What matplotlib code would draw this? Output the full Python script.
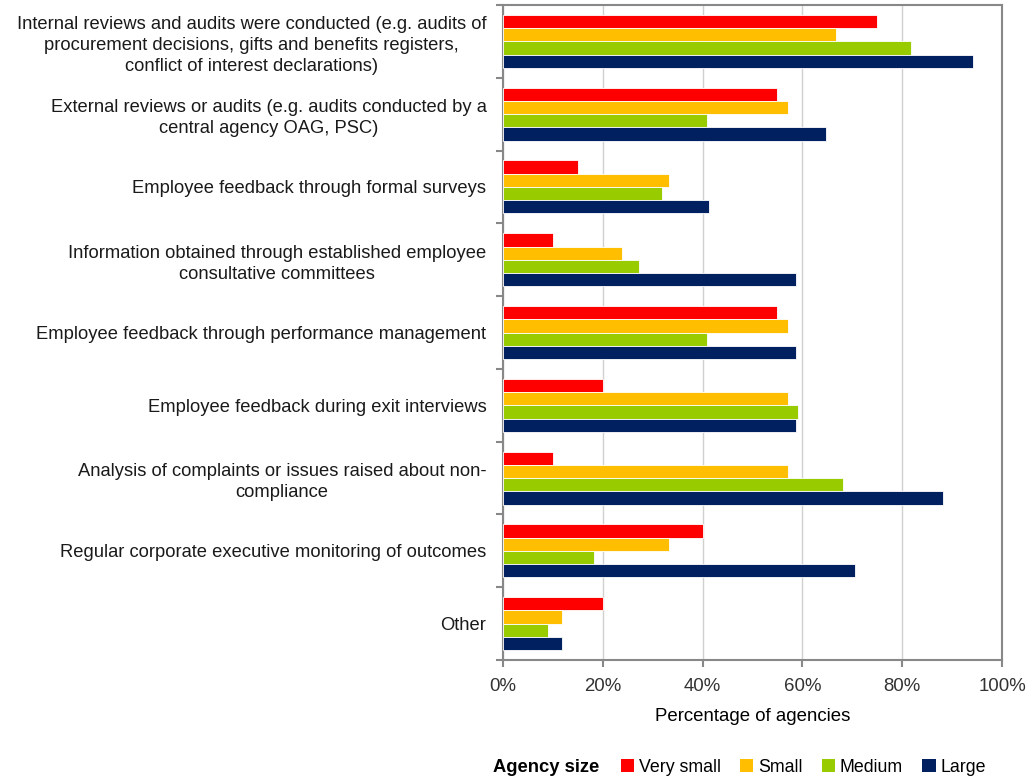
import matplotlib.pyplot as plt
import numpy as np
from matplotlib.patches import Patch
from matplotlib.ticker import FixedLocator, PercentFormatter

plt.rcParams["font.family"] = ["Liberation Sans", "DejaVu Sans"]

categories = [
    "Internal reviews and audits were conducted (e.g. audits of\n"
    "procurement decisions, gifts and benefits registers,\n"
    "conflict of interest declarations)",
    "External reviews or audits (e.g. audits conducted by a\n"
    "central agency OAG, PSC)",
    "Employee feedback through formal surveys",
    "Information obtained through established employee\n"
    "consultative committees",
    "Employee feedback through performance management",
    "Employee feedback during exit interviews",
    "Analysis of complaints or issues raised about non-\n"
    "compliance",
    "Regular corporate executive monitoring of outcomes",
    "Other",
]

sizes = ["Very small", "Small", "Medium", "Large"]
very_small = [75.0, 55.0, 15.0, 10.0, 55.0, 20.0, 10.0, 40.0, 20.0]
small = [66.7, 57.1, 33.3, 23.8, 57.1, 57.1, 57.1, 33.3, 11.8]
medium = [81.8, 40.9, 31.8, 27.3, 40.9, 59.1, 68.2, 18.2, 9.1]
large = [94.1, 64.7, 41.2, 58.8, 58.8, 58.8, 88.2, 70.6, 11.8]

colors = ["#FF0000", "#FFBF00", "#99CC00", "#002060"]

FS = 13.2


def main() -> None:
    fig = plt.figure(figsize=(10.33, 7.76), dpi=100)
    ax = fig.add_axes([0.487, 0.1495, 0.483, 0.844])

    y = np.arange(len(categories))
    h = 0.182
    series = [very_small, small, medium, large]
    for i, (vals, col) in enumerate(zip(series, colors)):
        ax.barh(y + (i - 1.5) * h, vals, height=h, color=col,
                edgecolor="white", linewidth=0.6, zorder=3)

    ax.set_xlim(0, 100)
    ax.set_ylim(len(categories) - 0.5, -0.5)
    ax.set_xticks(np.arange(0, 101, 20))
    ax.xaxis.set_major_formatter(PercentFormatter(decimals=0))
    ax.grid(axis="x", color="#D0D0D0", linewidth=1.0, zorder=0)

    ax.set_yticks(y)
    ax.set_yticklabels(categories, multialignment="center", fontsize=FS,
                       color="#1a1a1a", linespacing=1.3)
    ax.yaxis.set_minor_locator(FixedLocator(np.arange(-0.5, len(categories), 1)))
    ax.tick_params(axis="y", which="major", length=0, pad=12)
    ax.tick_params(axis="y", which="minor", length=5, color="#888888", width=1.5)
    ax.tick_params(axis="x", length=5, color="#888888", width=1.5,
                   labelsize=13.4, labelcolor="#333333", pad=8)

    for s in ax.spines.values():
        s.set_color("#888888")
        s.set_linewidth(1.5)

    ax.set_xlabel("Percentage of agencies", fontsize=13.4, labelpad=9)

    handles = [Patch(facecolor=c, edgecolor="none") for c in colors]
    fig.text(0.477, 0.011, "Agency size", fontsize=13.2, fontweight="bold",
             va="center", ha="left")
    fig.legend(handles, sizes, loc="center left", bbox_to_anchor=(0.601, 0.011),
               ncol=4, frameon=False, fontsize=12.8, handlelength=0.75,
               handleheight=0.75, handletextpad=0.25, columnspacing=1.1,
               borderpad=0, borderaxespad=0)

    fig.savefig("out.png", dpi=100)


if __name__ == "__main__":
    main()
